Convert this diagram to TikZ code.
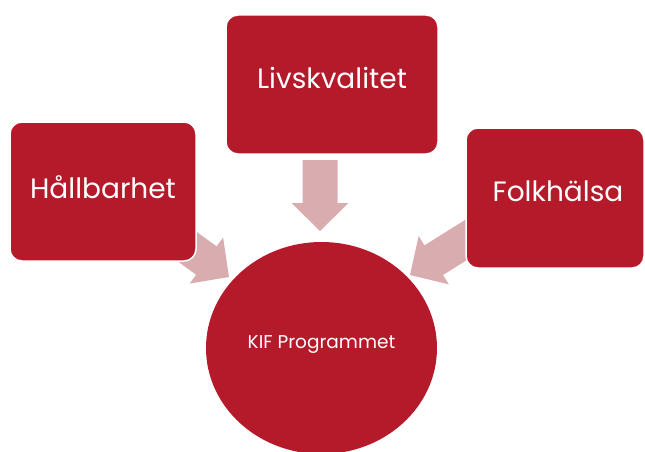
\documentclass[tikz,border=0pt]{standalone}
\usepackage{fontspec}
\setmainfont{Poppins}
\definecolor{kifred}{RGB}{181,26,43}
\definecolor{kifpink}{RGB}{217,173,175}
\begin{document}
\begin{tikzpicture}[x=1pt,y=-1pt,
  topicbox/.style={fill=kifred,draw=white,line width=1.5pt,rounded corners=12pt},
  topictext/.style={text=white,font=\fontsize{28}{32}\selectfont,inner sep=0pt},
  blockarrow/.style={fill=kifpink,draw=none}]
\useasboundingbox (0,0) rectangle (645,452);
% arrows
\coordinate (tipL) at (229,277);
\coordinate (tipT) at (320,231);
\coordinate (tipR) at (410,275);
\foreach \t/\a/\len in {tipL/-36/80, tipT/-90/71, tipR/-148/80}{
  \begin{scope}[shift={(\t)},rotate=\a]
    \fill[blockarrow] (-\len,-17.5) -- (-28,-17.5) -- (-28,-28.5) -- (0,0)
      -- (-28,28.5) -- (-28,17.5) -- (-\len,17.5) -- cycle;
  \end{scope}
}
% boxes
\path[topicbox] (10,122) rectangle (196,261);
\path[topicbox] (226,15) rectangle (438,154);
\path[topicbox] (466,128) rectangle (644,268);
\node[topictext] (hall) at (103,187) {Hållbarhet};
\node[topictext] (livs) at (332,78) {Livskvalitet};
\node[topictext] (folk) at (558,191) {Folkhälsa};
% circle
\fill[kifred] (321.5,348) ellipse [x radius=115.5, y radius=106];
\node[text=white,font=\fontsize{18.5}{21}\selectfont,inner sep=0pt] (kif) at (321.5,345) {KIF Programmet};
\end{tikzpicture}
\end{document}
